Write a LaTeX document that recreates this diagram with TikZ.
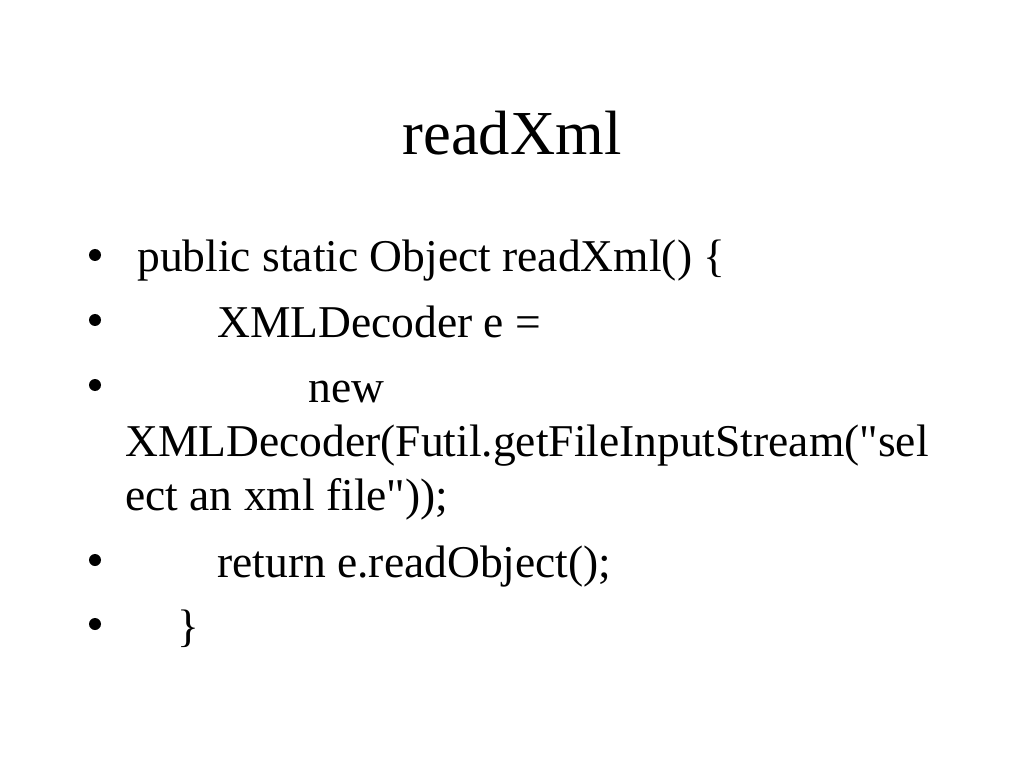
\documentclass[tikz,border=0pt]{standalone}
\usepackage{fontspec}
\setmainfont{Liberation Serif}[Ligatures=TeXOff]
\usepackage{tikz}

\begin{document}
\begin{tikzpicture}[x=0.703125pt, y=-0.703125pt]
	\tikzstyle{title}=[inner sep=0pt, anchor=base, font=\fontsize{44}{53}\selectfont]
	\tikzstyle{line}=[inner sep=0pt, anchor=base west, font=\fontsize{32}{38}\selectfont]
	\tikzstyle{bullet}=[circle, fill, draw=none, inner sep=0pt, minimum size=12*0.703125pt]
	\def\W{1024};
	\def\H{768};
	\def\bx{95};
	\def\wrap{125};

	\useasboundingbox [fill = white] (0,0) rectangle (\W,\H);

	\begin{scope}
		\node [title] (title) at (\W/2,155) {readXml};
	\end{scope}

	\begin{scope}
		\foreach \y/\n in {272/1, 337/2, 402/3, 577/4, 641/5}
			\node [bullet] (b\n) at (\bx,\y-17) {};
	\end{scope}

	\begin{scope}
		\node [line] (l1) at (137,272) {public static Object readXml() \{};
		\node [line] (l2) at (217,337) {XMLDecoder e =};
		\node [line] (l3) at (308,402) {new};
		\node [line] (l4) at (\wrap,456) {XMLDecoder(Futil.getFileInputStream("sel};
		\node [line] (l5) at (\wrap,510) {ect an xml file"));};
		\node [line] (l6) at (217,577) {return e.readObject();};
		\node [line] (l7) at (177,641) {\}};
	\end{scope}
\end{tikzpicture}
\end{document}
